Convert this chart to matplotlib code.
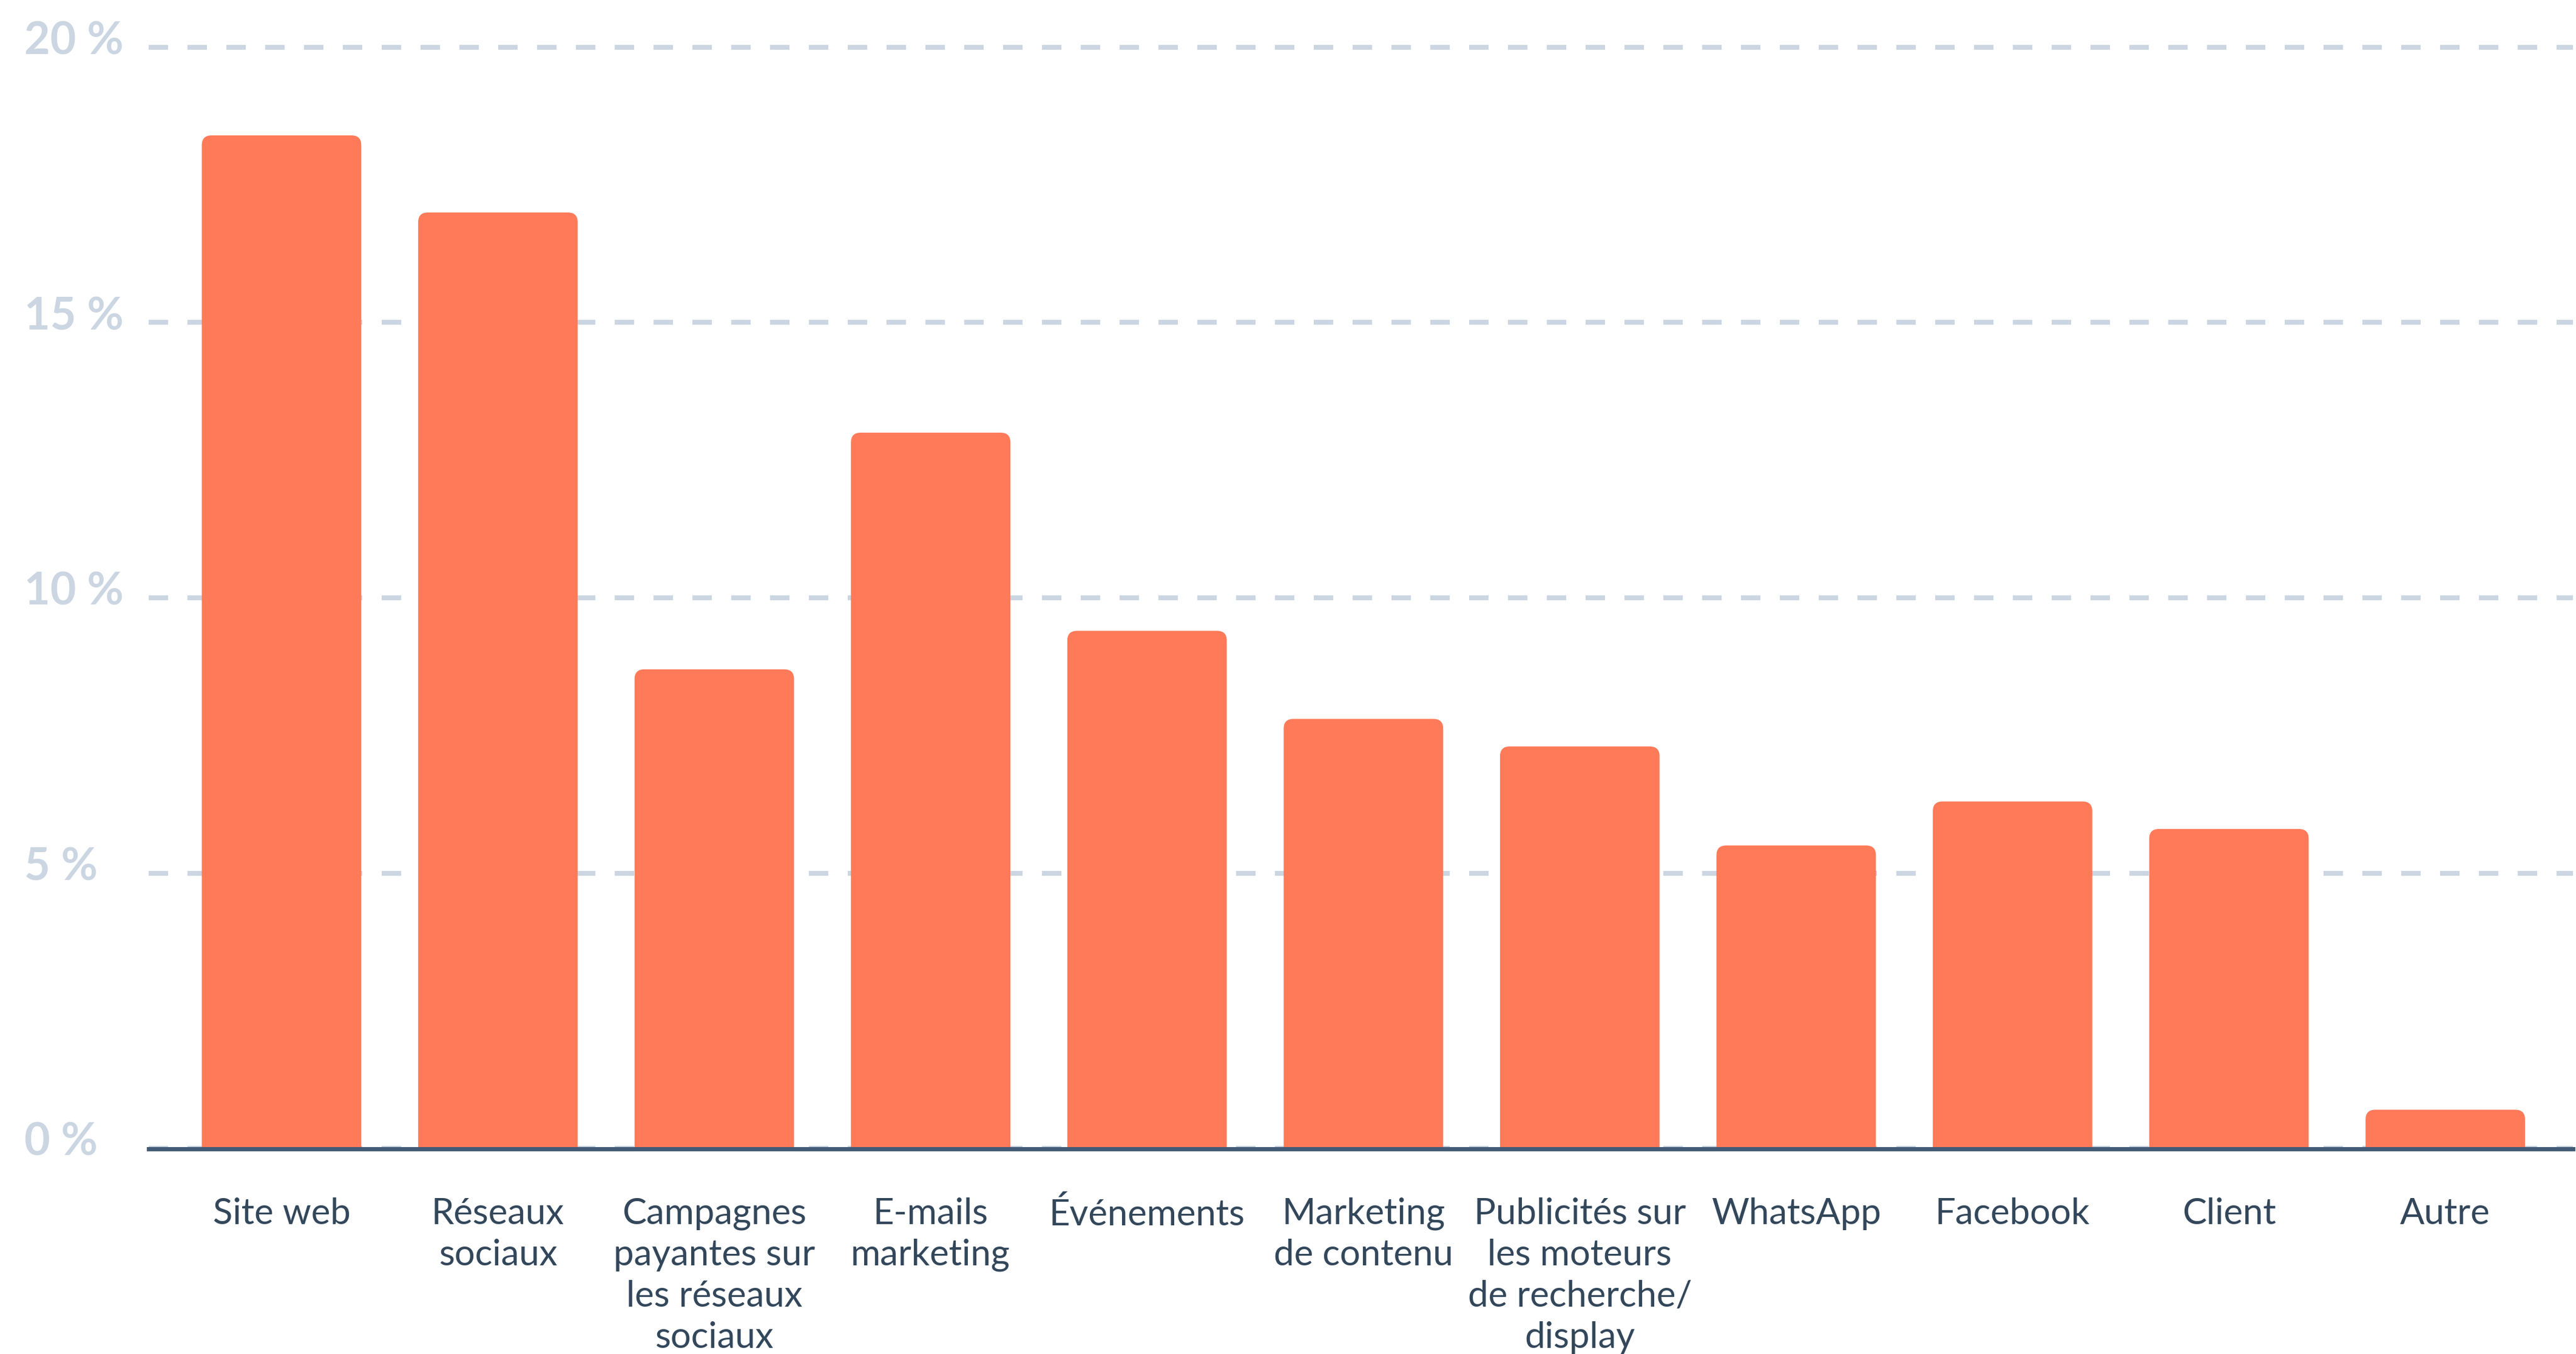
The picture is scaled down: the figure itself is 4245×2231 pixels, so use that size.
import matplotlib
matplotlib.use("Agg")
import matplotlib.pyplot as plt
import matplotlib.transforms as mtransforms
from matplotlib.patches import FancyBboxPatch

categories = ["Site web", "Réseaux\nsociaux", "Campagnes\npayantes sur\nles réseaux\nsociaux",
              "E-mails\nmarketing", "Événements", "Marketing\nde contenu",
              "Publicités sur\nles moteurs\nde recherche/\ndisplay", "WhatsApp",
              "Facebook", "Client", "Autre"]
values = [18.4, 17.0, 8.7, 13.0, 9.4, 7.8, 7.3, 5.5, 6.3, 5.8, 0.7]
yticks = [0, 5, 10, 15, 20]
ytick_labels = ["0 %", "5 %", "10 %", "15 %", "20 %"]

ORANGE = "#ff7a59"
GRID = "#cbd6e2"
AXIS = "#425b76"
TEXT = "#33475b"

plt.rcParams["font.family"] = ["Lato", "DejaVu Sans"]

W, H, DPI = 4245, 2231, 100
fig = plt.figure(figsize=(W / DPI, H / DPI), dpi=DPI)
ax = fig.add_axes([245 / W, (H - 1892) / H, (4240 - 245) / W, 20.4 * 90.7 / H])

xmin, xmax = -0.614, 10.59
ymin, ymax = 0, 20.4
ax.set_xlim(xmin, xmax)
ax.set_ylim(ymin, ymax)

# pixel size of one data unit, used to keep the corner radius round
px_x = (4240 - 245) / (xmax - xmin)
px_y = 90.7
aspect = px_x / px_y
radius_px = 16
bar_w = 0.737

for i, v in enumerate(values):
    p = FancyBboxPatch((i - bar_w / 2, -1), bar_w, v + 1,
                       boxstyle=f"round,pad=0,rounding_size={radius_px / px_x}",
                       mutation_aspect=aspect,
                       facecolor=ORANGE, edgecolor="none", zorder=3)
    ax.add_patch(p)

# dashed horizontal gridlines
for t in yticks:
    ax.axhline(t, color=GRID, lw=5.76, linestyle=(0, (4, 4)), zorder=1)

for s in ["top", "right", "left"]:
    ax.spines[s].set_visible(False)
ax.spines["bottom"].set_color(AXIS)
ax.spines["bottom"].set_linewidth(5.0)
ax.spines["bottom"].set_position(("outward", 1))
ax.spines["bottom"].set_zorder(4)

ax.set_yticks([])
ax.set_xticks(range(len(categories)))
ax.set_xticklabels(categories, fontsize=43, color=TEXT, linespacing=1.32)
ax.tick_params(axis="x", length=0, pad=57)

# y labels left-aligned at the figure edge
off = mtransforms.ScaledTranslation(0, -12 / DPI, fig.dpi_scale_trans)
trans = mtransforms.blended_transform_factory(fig.transFigure, ax.transData) + off
for t, lab in zip(yticks, ytick_labels):
    ax.text(40 / W, t, lab, transform=trans, ha="left", va="baseline",
            fontsize=53, color=GRID, fontweight="bold", clip_on=False)

fig.savefig("out.png", dpi=DPI, facecolor="white")
